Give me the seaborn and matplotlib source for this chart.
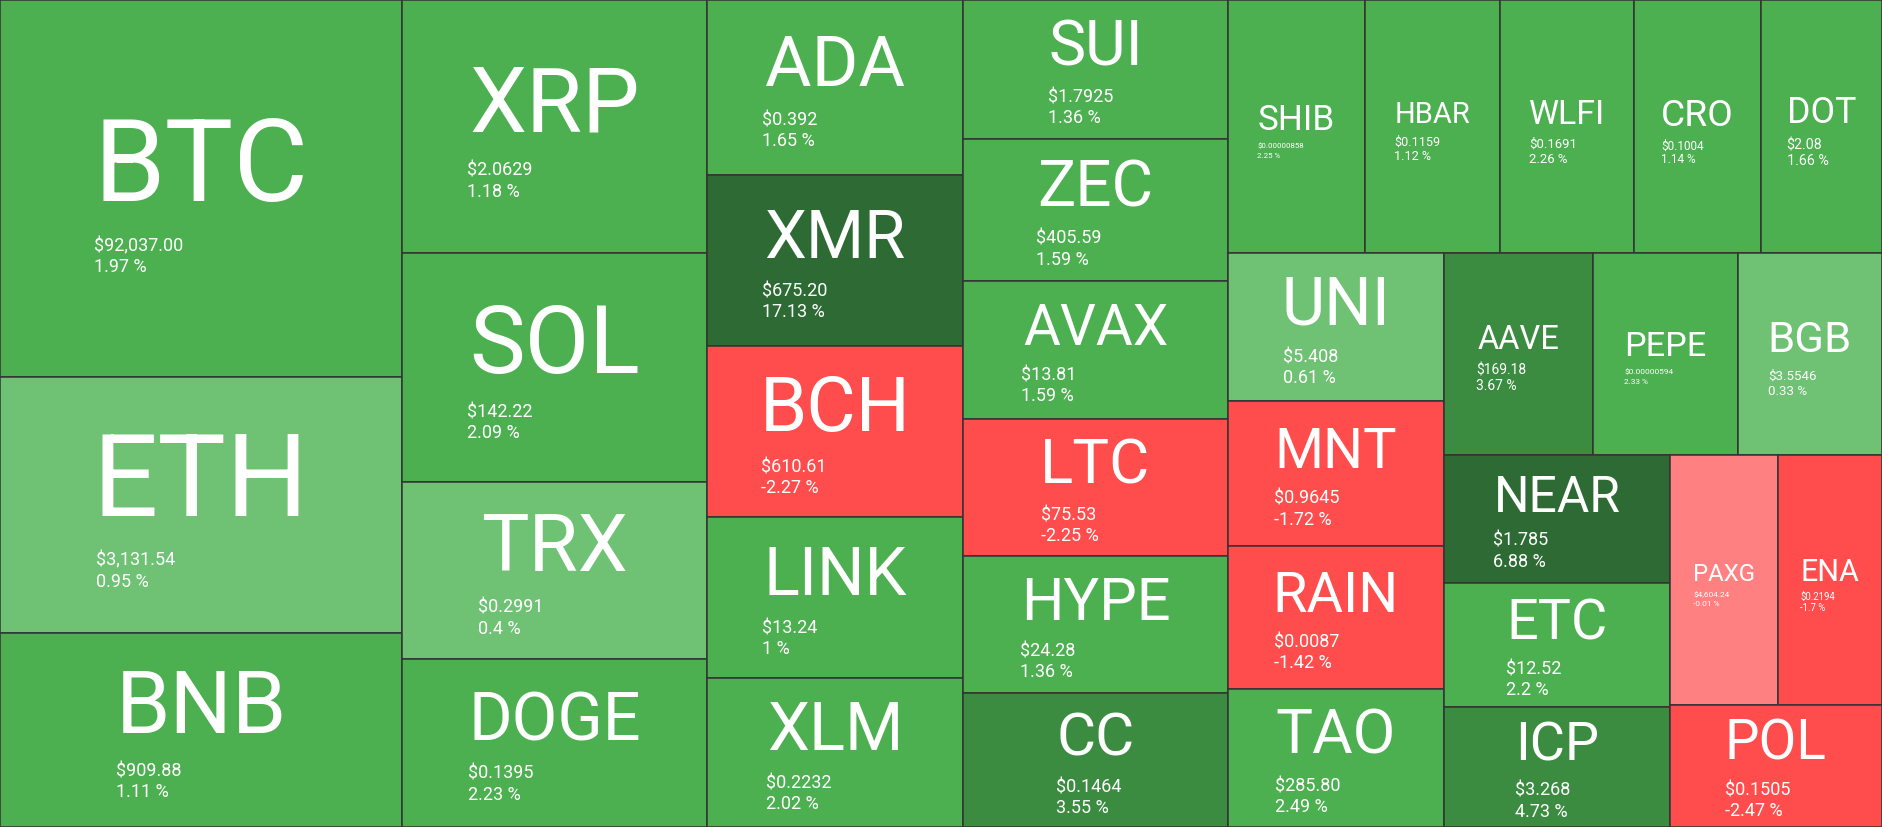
"""Crypto market heatmap (treemap) rebuilt with seaborn/matplotlib."""

import matplotlib

matplotlib.use("Agg")

import matplotlib.pyplot as plt
import numpy as np
import pandas as pd
import seaborn as sns
from matplotlib.font_manager import FontProperties
from matplotlib.patches import Rectangle
from matplotlib.textpath import TextPath

symbols = [
    "BTC", "ETH", "BNB", "XRP", "SOL", "TRX", "DOGE", "ADA", "XMR", "BCH", "LINK", "XLM",
    "SUI", "ZEC", "AVAX", "LTC", "HYPE", "CC", "SHIB", "HBAR", "WLFI", "CRO", "DOT", "UNI",
    "MNT", "RAIN", "TAO", "AAVE", "PEPE", "BGB", "NEAR", "ETC", "ICP", "PAXG", "ENA", "POL",
]
# tile weights (relative size of each block)
weights = [
    151.6, 102.9, 78.0, 77.2, 69.8, 54.0, 51.2, 44.8, 43.8, 43.8, 41.2, 38.1,
    36.8, 37.6, 36.6, 36.3, 36.3, 35.5, 34.7, 34.2, 33.9, 32.1, 30.6, 32.0,
    31.3, 30.9, 29.8, 30.1, 29.3, 29.1, 28.9, 28.0, 27.1, 27.0, 26.0, 25.9,
]
prices = [
    "$92,037.00", "$3,131.54", "$909.88", "$2.0629", "$142.22", "$0.2991", "$0.1395",
    "$0.392", "$675.20", "$610.61", "$13.24", "$0.2232", "$1.7925", "$405.59", "$13.81",
    "$75.53", "$24.28", "$0.1464", "$0.00000858", "$0.1159", "$0.1691", "$0.1004", "$2.08",
    "$5.408", "$0.9645", "$0.0087", "$285.80", "$169.18", "$0.00000594", "$3.5546",
    "$1.785", "$12.52", "$3.268", "$4,604.24", "$0.2194", "$0.1505",
]
changes = [
    1.97, 0.95, 1.11, 1.18, 2.09, 0.4, 2.23, 1.65, 17.13, -2.27, 1, 2.02,
    1.36, 1.59, 1.59, -2.25, 1.36, 3.55, 2.25, 1.12, 2.26, 1.14, 1.66, 0.61,
    -1.72, -1.42, 2.49, 3.67, 2.33, 0.33, 6.88, 2.2, 4.73, -0.01, -1.7, -2.47,
]

change_bins = [-np.inf, -1, 0, 1, 3, 5, np.inf]
bin_colors = ["#ff4c4c", "#ff8080", "#6fc174", "#4caf50", "#3b8c41", "#2e6b34"]

W, H = 1882, 827
PHI = (1 + 5 ** 0.5) / 2


def squarify(values, x0, y0, x1, y1, ratio=PHI):
    """Squarified treemap in the d3 style, returns (x, y, w, h) per value."""
    rects = [None] * len(values)
    value = float(sum(values))
    n = len(values)
    i0 = i1 = 0
    while i0 < n:
        dx, dy = x1 - x0, y1 - y0
        sum_v = values[i1]
        i1 += 1
        min_v = max_v = sum_v
        alpha = max(dy / dx, dx / dy) / (value * ratio)
        beta = sum_v * sum_v * alpha
        min_ratio = max(max_v / beta, beta / min_v)
        while i1 < n:
            v = values[i1]
            s = sum_v + v
            lo, hi = min(min_v, v), max(max_v, v)
            beta = s * s * alpha
            new_ratio = max(hi / beta, beta / lo)
            if new_ratio > min_ratio:
                break
            sum_v, min_v, max_v, min_ratio = s, lo, hi, new_ratio
            i1 += 1
        row = values[i0:i1]
        if dx < dy:
            h = dy * sum_v / value
            x = x0
            for k, v in enumerate(row):
                w = dx * v / sum_v
                rects[i0 + k] = (x, y0, w, h)
                x += w
            y0 += h
        else:
            w = dx * sum_v / value
            y = y0
            for k, v in enumerate(row):
                h = dy * v / sum_v
                rects[i0 + k] = (x0, y, w, h)
                y += h
            x0 += w
        value -= sum_v
        i0 = i1
    return rects


sns.set_theme(style="white")
plt.rcParams["font.family"] = ["Roboto", "DejaVu Sans"]
font = FontProperties(family="Roboto")


def ink_width(text):
    return TextPath((0, 0), text, size=100, prop=font).get_extents().width / 100


frame = pd.DataFrame({"symbol": symbols, "weight": weights, "price": prices, "change": changes})
frame["color"] = pd.cut(frame["change"], bins=change_bins, labels=bin_colors, right=False).astype(str)
frame["pct"] = [f"{c:g} %" for c in changes]
frame[["x", "y", "w", "h"]] = squarify(frame["weight"].tolist(), 0, 0, W, H)

fig = plt.figure(figsize=(W / 100, H / 100), dpi=100)
ax = fig.add_axes([0, 0, 1, 1])
ax.set_xlim(0, W)
ax.set_ylim(H, 0)
ax.axis("off")

PX = 72 / 100  # pixels -> points

for row in frame.itertuples():
    ax.add_patch(Rectangle((row.x, row.y), row.w, row.h, facecolor=row.color,
                           edgecolor="#333333", linewidth=1.1))
    sym_em = ink_width(row.symbol)
    big = min(115, 0.54 * row.w / sym_em, 0.32 * row.h / 0.711)
    small_em = max(ink_width(row.price), ink_width(row.pct))
    small = min(18, 0.45 * big, 0.33 * row.w / small_em)

    cx = row.x + row.w / 2
    cy = row.y + row.h / 2 + 0.02 * row.h
    base = cy - (-0.461 * big + 2.35 * small) / 2
    left = cx - big * sym_em / 2 - 0.06 * big

    ax.text(cx, base, row.symbol, ha="center", va="baseline", color="white",
            fontsize=big * PX)
    price_base = base + 0.25 * big + 1.2 * small
    ax.text(left, price_base, row.price, ha="left", va="baseline", color="white",
            fontsize=small * PX)
    ax.text(left, price_base + 1.15 * small, row.pct, ha="left", va="baseline",
            color="white", fontsize=small * PX)

fig.savefig("out.png", dpi=100)
plt.close(fig)
